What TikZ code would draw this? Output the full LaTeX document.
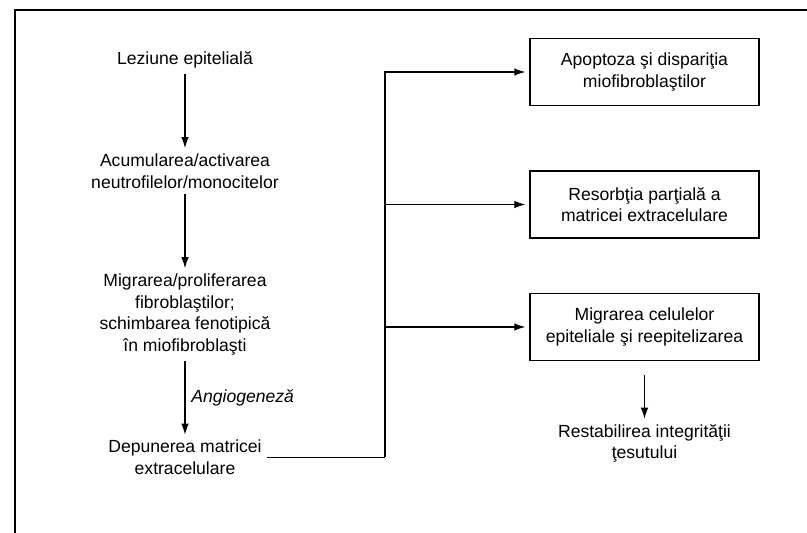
\documentclass[tikz,border=0pt]{standalone}
\usepackage{fontspec}
\setmainfont{Liberation Sans}
\usetikzlibrary{arrows.meta, positioning}

\begin{document}
\begin{tikzpicture}[
  font=\fontsize{10}{12.3}\selectfont,
  >={Latex[length=2.2mm,width=1.5mm]},
  txt/.style={align=center, inner sep=3pt},
  box/.style={draw, line width=0.8pt, align=center, minimum width=4.58cm, minimum height=1.34cm},
  lnk/.style={line width=0.6pt}
]

% page and frame
\useasboundingbox (0,0) rectangle (16.14,10.66);
\draw[line width=0.7pt] (0.30,0) -- (0.30,10.46) -- (16.14,10.46);

% left column
\node[txt] (lez) at (3.70,9.46) {Leziune epitelială};
\node[txt] (acum) at (3.70,7.24) {Acumularea/activarea\\neutrofilelor/monocitelor};
\node[txt] (migr) at (3.70,4.37) {Migrarea/proliferarea\\fibroblaştilor;\\schimbarea fenotipică\\în miofibroblaşti};
\node[txt] (dep) at (3.70,1.51) {Depunerea matricei\\extracelulare};

\draw[lnk,->] (lez) -- (acum);
\draw[lnk,->] (acum) -- (migr);
\draw[lnk,->] (migr) -- node[right, font=\fontsize{10}{12.3}\selectfont\itshape] (angio) {Angiogeneză} (dep);

% right column
\node[box] (apop) at (12.89,9.22) {Apoptoza şi dispariţia\\miofibroblaştilor};
\node[box] (reso) at (12.89,6.57) {Resorbţia parţială a\\matricei extracelulare};
\node[box] (epit) at (12.89,4.12) {Migrarea celulelor\\epiteliale şi reepitelizarea};
\node[txt] (rest) at (12.89,1.79) {Restabilirea integrităţii\\ţesutului};

% branches
\coordinate (split) at (7.70,1.51);
\draw[lnk] (dep.east) -- (split);
\draw[lnk,->,shorten >=0.08cm] (split) |- (apop.west);
\draw[lnk,->,shorten >=0.08cm] (split |- reso.west) -- (reso.west);
\draw[lnk,->,shorten >=0.08cm] (split |- epit.west) -- (epit.west);
\draw[lnk,->,shorten <=0.28cm] (epit) -- (rest);

\end{tikzpicture}
\end{document}
